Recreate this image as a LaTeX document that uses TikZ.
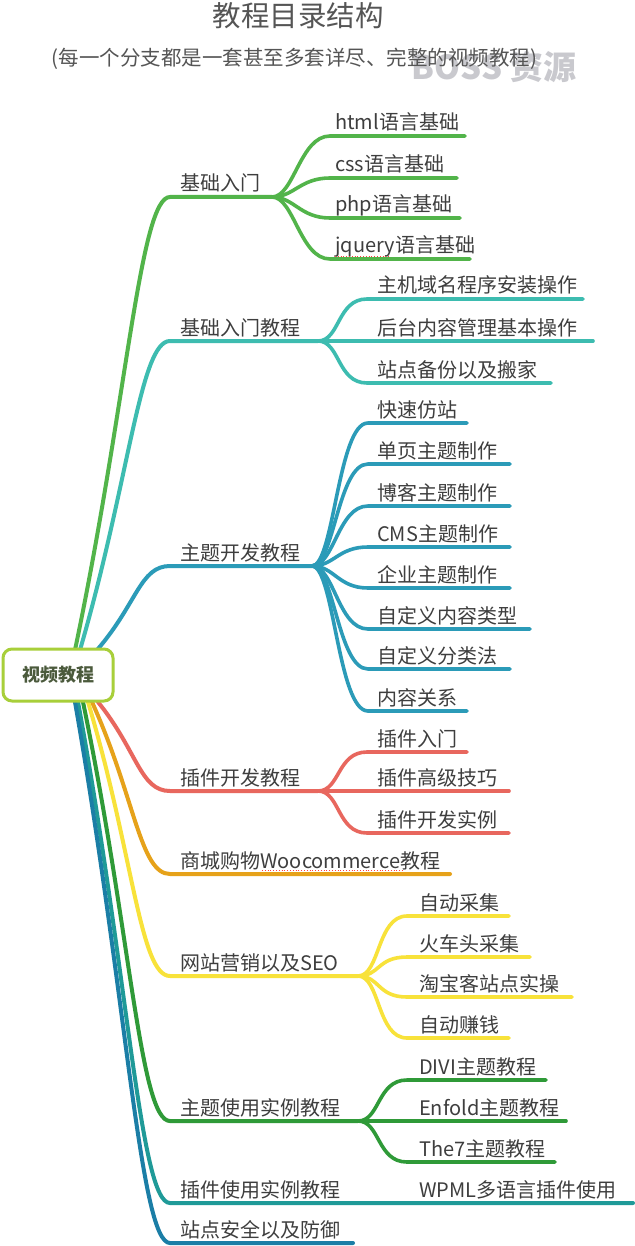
\documentclass[tikz,border=0pt]{standalone}
\usepackage{fontspec}
\setmainfont{Noto Sans CJK SC}
\usetikzlibrary{calc}
\definecolor{cG}{HTML}{52B44A}
\definecolor{cT}{HTML}{3DBCB0}
\definecolor{cB}{HTML}{2B9BB8}
\definecolor{cR}{HTML}{E8675E}
\definecolor{cO}{HTML}{E6A21A}
\definecolor{cY}{HTML}{F8E23A}
\definecolor{cG2}{HTML}{2F9A38}
\definecolor{cT2}{HTML}{1F9A98}
\definecolor{cB2}{HTML}{1B7EA6}
\definecolor{rootc}{HTML}{A8CF3A}
\definecolor{roottxt}{HTML}{4B5A3C}
\definecolor{txt}{HTML}{3E3E3E}
\definecolor{titlec}{HTML}{555555}
\definecolor{wmark}{HTML}{C9C9CE}
\tikzset{
  br/.style={line width=4pt, line cap=round},
  sb/.style={line width=3.6pt, line cap=round},
  lbl/.style={anchor=base west, inner sep=0pt, font=\fontsize{20}{24}\selectfont, text=txt},
  squig/.style={draw=red!75, dotted, line width=0.8pt},
}
% name, color, x0, y0, yb, xr, label
\newcommand\mainbr[7]{%
  \coordinate (#1s) at (#3,#4);
  \coordinate (#1c) at (170,#5);
  \coordinate (#1r) at (#6,#5);
  \draw[br,#2] (#1s) .. controls ($(#1s)!0.55!(#1c)$) and (140,#5) .. (#1c) -- (#1r);
  \node[lbl] (#1t) at (180,#5-6) {#7};
}
% name, parent, color, xs, ys, xe, textx, label
\newcommand\subbr[8]{%
  \coordinate (#1a) at (#4,#5);
  \coordinate (#1e) at (#6,#5);
  \draw[sb,#3] (#2r) .. controls ($(#2r)+(22,0)$) and ($(#1a)+(-30,0)$) .. (#1a) -- (#1e);
  \node[lbl] (#1t) at (#7,#5-6) {#8};
}
\begin{document}
\begin{tikzpicture}[x=1pt,y=-1pt]
\useasboundingbox[fill=white] (0,0) rectangle (634,1246);

% title
\node[font=\fontsize{28.5}{32}\selectfont, text=titlec, inner sep=0pt] (title) at (298,16) {教程目录结构};
\node[font=\bfseries\fontsize{33}{36}\selectfont, text=wmark, inner sep=0pt] (wm) at (494,67) {BOSS\hspace{8pt}资源};
\node[font=\fontsize{20.5}{24}\selectfont, text=titlec, inner sep=0pt] (sub) at (294.5,59) {(每一个分支都是一套甚至多套详尽、完整的视频教程)};

% main branches
\mainbr{b1}{cG}{75}{650}{197}{272}{基础入门}
\mainbr{b2}{cT}{80}{650}{341}{318}{基础入门教程}
\mainbr{b3}{cB}{97}{650}{566}{312}{主题开发教程}
\mainbr{b4}{cR}{98}{702}{791}{318}{插件开发教程}
\mainbr{b5}{cO}{92}{702}{874}{450}{商城购物Woocommerce教程}
\mainbr{b6}{cY}{88}{702}{976}{358}{网站营销以及SEO}
\mainbr{b7}{cG2}{83}{702}{1121}{358}{主题使用实例教程}
\mainbr{b8}{cT2}{78}{702}{1203}{633}{插件使用实例教程}
\mainbr{b9}{cB2}{75}{702}{1243}{353}{站点安全以及防御}

% sub branches
\subbr{s11}{b1}{cG}{330}{136}{465}{335}{html语言基础}
\subbr{s12}{b1}{cG}{330}{178}{457}{335}{css语言基础}
\subbr{s13}{b1}{cG}{330}{218}{460}{335}{php语言基础}
\subbr{s14}{b1}{cG}{330}{259}{470}{335}{jquery语言基础}

\subbr{s21}{b2}{cT}{367}{299}{583}{377}{主机域名程序安装操作}
\subbr{s22}{b2}{cT}{367}{341}{593}{377}{后台内容管理基本操作}
\subbr{s23}{b2}{cT}{367}{383}{551}{377}{站点备份以及搬家}

\subbr{s31}{b3}{cB}{368}{423}{467}{377}{快速仿站}
\subbr{s32}{b3}{cB}{368}{464}{510}{377}{单页主题制作}
\subbr{s33}{b3}{cB}{368}{506}{510}{377}{博客主题制作}
\subbr{s34}{b3}{cB}{368}{547}{510}{377}{CMS主题制作}
\subbr{s35}{b3}{cB}{368}{588}{510}{377}{企业主题制作}
\subbr{s36}{b3}{cB}{368}{629}{530}{377}{自定义内容类型}
\subbr{s37}{b3}{cB}{368}{669}{510}{377}{自定义分类法}
\subbr{s38}{b3}{cB}{368}{711}{467}{377}{内容关系}

\subbr{s41}{b4}{cR}{367}{752}{467}{377}{插件入门}
\subbr{s42}{b4}{cR}{367}{791}{509}{377}{插件高级技巧}
\subbr{s43}{b4}{cR}{367}{833}{509}{377}{插件开发实例}

\subbr{s61}{b6}{cY}{407}{916}{509}{419}{自动采集}
\subbr{s62}{b6}{cY}{407}{957}{530}{419}{火车头采集}
\subbr{s63}{b6}{cY}{407}{997}{572}{419}{淘宝客站点实操}
\subbr{s64}{b6}{cY}{407}{1038}{509}{419}{自动赚钱}

\subbr{s71}{b7}{cG2}{407}{1080}{546}{419}{DIVI主题教程}
\subbr{s72}{b7}{cG2}{407}{1121}{566}{419}{Enfold主题教程}
\subbr{s73}{b7}{cG2}{407}{1162}{555}{419}{The7主题教程}

\node[lbl] (s81t) at (419,1197) {WPML多语言插件使用};

% spell-check squiggles
\coordinate (q1a) at (335,256);
\coordinate (q1b) at (390,256);
\draw[squig] (q1a) -- (q1b);
\coordinate (q2a) at (262,870);
\coordinate (q2b) at (403,870);
\draw[squig] (q2a) -- (q2b);

% root
\node[draw=rootc, fill=white, line width=3pt, rounded corners=9pt,
      minimum width=110pt, minimum height=52pt, inner sep=0pt,
      font=\bfseries\fontsize{18}{20}\selectfont, text=roottxt] (root) at (58,675) {视频教程};
\end{tikzpicture}
\end{document}
